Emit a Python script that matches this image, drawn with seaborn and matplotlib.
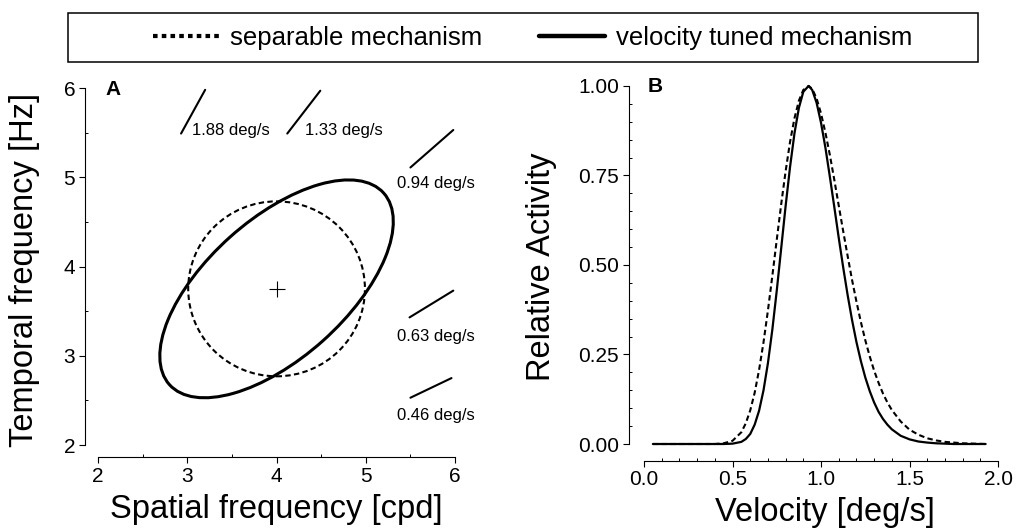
import matplotlib
matplotlib.use("Agg")
import matplotlib.pyplot as plt
from matplotlib.patches import Ellipse, Rectangle
from matplotlib.lines import Line2D
from matplotlib.ticker import MultipleLocator, FormatStrFormatter
import seaborn as sns
import pandas as pd

# ---------------- data ----------------
# Panel A: spatial / temporal frequency plane
centre_sf, centre_tf = 4.0, 3.75
separable_w, separable_h = 1.98, 1.96          # dashed circle (diameters)
tuned_w, tuned_h, tuned_angle = 3.22, 1.56, 41.8  # solid ellipse (axes, deg)

speed_labels = ["1.88 deg/s", "1.33 deg/s", "0.94 deg/s", "0.63 deg/s", "0.46 deg/s"]
seg_x0 = [2.93, 4.12, 5.50, 5.49, 5.50]
seg_x1 = [3.20, 4.49, 5.98, 5.98, 5.96]
seg_y0 = [5.49, 5.49, 5.11, 3.43, 2.53]
seg_y1 = [5.98, 5.97, 5.53, 3.73, 2.75]
lab_x = [3.05, 4.32, 5.35, 5.35, 5.35]
lab_y = [5.47, 5.47, 4.88, 3.16, 2.28]

# Panel B: relative activity vs velocity
velocity = [0.05, 0.30, 0.40, 0.45, 0.50, 0.55, 0.575, 0.60, 0.625, 0.65, 0.675,
            0.70, 0.725, 0.75, 0.775, 0.80, 0.825, 0.85, 0.875, 0.90, 0.93, 0.95,
            0.975, 1.00, 1.025, 1.05, 1.075, 1.10, 1.125, 1.15, 1.175, 1.20, 1.225,
            1.25, 1.275, 1.30, 1.325, 1.35, 1.375, 1.40, 1.45, 1.50, 1.55, 1.60,
            1.65, 1.70, 1.75, 1.80, 1.93]
act_tuned = [0.0, 0.0, 0.0, 0.0, 0.001, 0.006, 0.014, 0.028, 0.054, 0.093, 0.150,
             0.226, 0.320, 0.429, 0.547, 0.665, 0.774, 0.868, 0.939, 0.984, 1.0, 0.989,
             0.953, 0.897, 0.827, 0.746, 0.662, 0.576, 0.494, 0.417, 0.347, 0.285, 0.232,
             0.186, 0.148, 0.116, 0.090, 0.070, 0.054, 0.041, 0.023, 0.013, 0.007, 0.004,
             0.002, 0.001, 0.0, 0.0, 0.0]
act_separable = [0.0, 0.0, 0.0, 0.002, 0.009, 0.033, 0.058, 0.094, 0.143, 0.207, 0.284,
                 0.373, 0.470, 0.571, 0.670, 0.762, 0.844, 0.910, 0.959, 0.989, 1.0, 0.992,
                 0.965, 0.923, 0.869, 0.807, 0.738, 0.666, 0.595, 0.526, 0.459, 0.398, 0.341,
                 0.290, 0.245, 0.205, 0.171, 0.141, 0.116, 0.095, 0.063, 0.040, 0.026, 0.016,
                 0.010, 0.006, 0.004, 0.002, 0.0]

legend_labels = ["separable mechanism", "velocity tuned mechanism"]

# ---------------- style ----------------
sns.set_theme(style="ticks")
plt.rcParams["font.family"] = ["Liberation Sans", "DejaVu Sans"]
plt.rcParams.update({
    "axes.linewidth": 0.8,
    "xtick.major.size": 4, "ytick.major.size": 4,
    "xtick.minor.size": 2.2, "ytick.minor.size": 2.2,
    "xtick.major.width": 0.8, "ytick.major.width": 0.8,
    "xtick.minor.width": 0.7, "ytick.minor.width": 0.7,
    "xtick.color": "black", "ytick.color": "black",
    "axes.edgecolor": "black", "text.color": "black",
    "axes.labelcolor": "black",
})

fig = plt.figure(figsize=(10.16, 5.32), dpi=100)
axA = fig.add_axes([0.0965, 0.1635, 0.3514, 0.671])
axB = fig.add_axes([0.6339, 0.1654, 0.3484, 0.673])

# ---------------- panel A ----------------
axA.add_patch(Ellipse((centre_sf, centre_tf), separable_w, separable_h, fill=False,
                      edgecolor="black", lw=1.5, linestyle=(0, (2.6, 1.6))))
axA.add_patch(Ellipse((centre_sf, centre_tf), tuned_w, tuned_h, angle=tuned_angle,
                      fill=False, edgecolor="black", lw=2.2))
axA.plot([centre_sf], [centre_tf], marker="+", color="black", markersize=12, mew=0.8)

segs = pd.DataFrame({
    "sf": seg_x0 + seg_x1,
    "tf": seg_y0 + seg_y1,
    "seg": list(range(len(seg_x0))) * 2,
})
sns.lineplot(data=segs, x="sf", y="tf", units="seg", estimator=None, sort=False,
             color="black", lw=1.5, ax=axA, legend=False)
for lab, x, y in zip(speed_labels, lab_x, lab_y):
    axA.text(x, y, lab, fontsize=12, ha="left", va="baseline")

axA.set_xlim(2, 6)
axA.set_ylim(2, 6)
axA.xaxis.set_major_locator(MultipleLocator(1))
axA.yaxis.set_major_locator(MultipleLocator(1))
axA.xaxis.set_minor_locator(MultipleLocator(0.5))
axA.yaxis.set_minor_locator(MultipleLocator(0.5))
axA.tick_params(axis="both", which="major", labelsize=15, direction="out", pad=3)
axA.tick_params(axis="both", which="minor", direction="in")
sns.despine(ax=axA, offset={"left": 9.5, "bottom": 8.5}, trim=True)
axA.set_xlabel("Spatial frequency [cpd]", fontsize=23.5)
axA.set_ylabel("Temporal frequency [Hz]", fontsize=23.5)
axA.xaxis.set_label_coords(0.5, -0.182)
axA.xaxis.label.set_va("center")
axA.yaxis.set_label_coords(-0.205, 0.49)
axA.yaxis.label.set_va("center")
axA.text(0.022, 1.022, "A", transform=axA.transAxes, fontsize=15, fontweight="bold",
         ha="left", va="top")

# ---------------- panel B ----------------
sns.lineplot(x=velocity, y=act_separable, ax=axB, color="black", lw=1.5,
             linestyle=(0, (2.6, 1.6)), clip_on=False)
sns.lineplot(x=velocity, y=act_tuned, ax=axB, color="black", lw=1.6, clip_on=False)
axB.set_xlim(0, 2)
axB.set_ylim(0, 1)
axB.xaxis.set_major_locator(MultipleLocator(0.5))
axB.xaxis.set_minor_locator(MultipleLocator(0.1))
axB.yaxis.set_major_locator(MultipleLocator(0.25))
axB.yaxis.set_minor_locator(MultipleLocator(0.05))
axB.xaxis.set_major_formatter(FormatStrFormatter("%.1f"))
axB.yaxis.set_major_formatter(FormatStrFormatter("%.2f"))
axB.tick_params(axis="both", which="major", labelsize=15, direction="out", pad=3)
axB.tick_params(axis="both", which="minor", direction="in")
sns.despine(ax=axB, offset={"left": 11, "bottom": 12}, trim=True)
axB.set_xlabel("Velocity [deg/s]", fontsize=23.5)
axB.set_ylabel("Relative Activity", fontsize=23.5)
axB.xaxis.set_label_coords(0.51, -0.19)
axB.xaxis.label.set_va("center")
axB.yaxis.set_label_coords(-0.291, 0.495)
axB.yaxis.label.set_va("center")
axB.text(0.011, 1.025, "B", transform=axB.transAxes, fontsize=15, fontweight="bold",
         ha="left", va="top")

# ---------------- legend ----------------
handles = [
    Line2D([], [], color="black", lw=3.0, linestyle=(0, (1.1, 1.0))),
    Line2D([], [], color="black", lw=3.2),
]
fig.legend(handles, legend_labels, loc="center", bbox_to_anchor=(0.524, 0.9295),
           ncol=2, frameon=False, fontsize=18.5, handlelength=2.6,
           handletextpad=0.4, columnspacing=2.2)
fig.add_artist(Rectangle((0.0669, 0.8835), 0.8957, 0.0921, transform=fig.transFigure,
                         fill=False, edgecolor="black", lw=1.1))

fig.savefig("out.png", dpi=100)
